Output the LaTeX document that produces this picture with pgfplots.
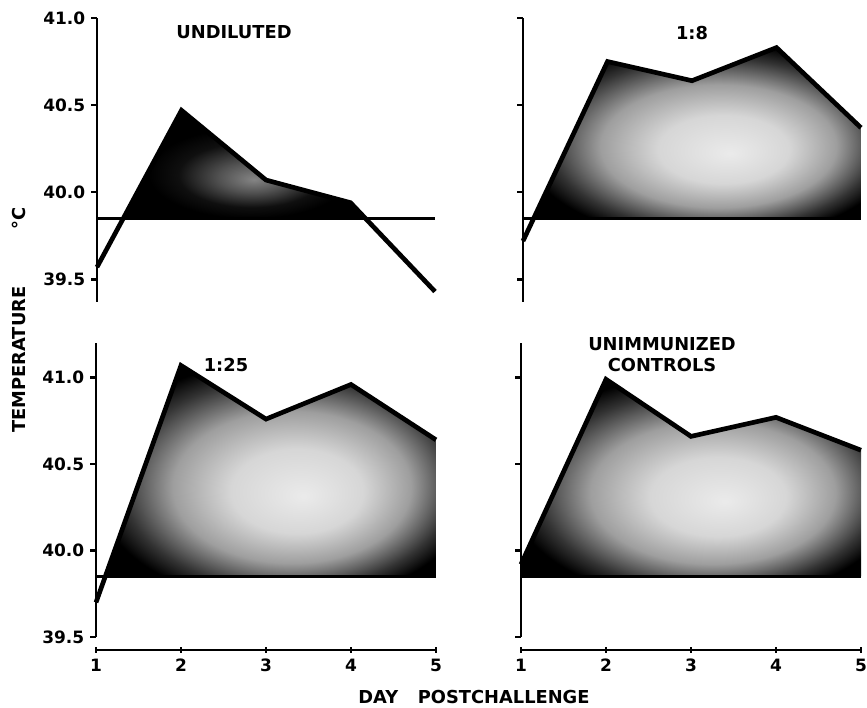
\documentclass[border=0pt]{standalone}
\usepackage{fontspec}
\setmainfont{DejaVu Sans}
\usepackage{pgfplots}
\pgfplotsset{compat=1.18}
\pgfdeclareradialshading{speckA}{\pgfpoint{2bp}{-7bp}}{color(0bp)=(black!48); color(7bp)=(black!68); color(15bp)=(black!94); color(21bp)=(black); color(50bp)=(black)}
\pgfdeclareradialshading{speckB}{\pgfpoint{5bp}{-6bp}}{color(0bp)=(black!8); color(10bp)=(black!16); color(18bp)=(black!38); color(25bp)=(black!80); color(29bp)=(black); color(50bp)=(black)}
\pgfplotsset{
  panel/.style={scale only axis, clip=false, xmin=1, xmax=5, anchor=south west,
    axis y line=left,
    axis line style={line width=1.6pt,-},
    tick style={line width=1.4pt, black}, tick align=outside, major tick length=3.5pt,
    ytick={39.5,40,40.5,41}, xtick={1,2,3,4,5},
    tick label style={font=\bfseries\fontsize{10.2}{12}\selectfont}},
  toprow/.style={panel, axis x line=none, ymin=39.37, ymax=41.0, width=202.8pt, height=170.4pt,
    y axis line style={-}},
  botrow/.style={panel, axis x line=bottom, axis x line shift=7.8pt, ymin=39.5, ymax=41.2,
    width=204pt, height=176.4pt, xticklabels={1,2,3,4,5},
    x axis line style={-}, y axis line style={-},
    every outer x axis line/.append style={-}},
  dataline/.style={black, line width=2.8pt, line join=miter, no markers},
  baseline/.style={black, line width=1.8pt, no markers},
}
\begin{document}
\begin{tikzpicture}
\path[use as bounding box] (0,0) rectangle (520.2pt,424.8pt);

% UNDILUTED
\begin{axis}[toprow, at={(58.2pt,243.6pt)}, yticklabels={39.5,40.0,40.5,41.0}]
\addplot[shade, shading=speckA, draw=none] coordinates {(1.31,39.85) (2,40.47) (3,40.07) (4,39.94) (4.18,39.85)};
\addplot[baseline] coordinates {(1,39.85) (5,39.85)};
\addplot[dataline] coordinates {(1,39.57) (2,40.47) (3,40.07) (4,39.94) (5,39.43)};
\end{axis}

% 1:8
\begin{axis}[toprow, at={(313.8pt,243.6pt)}, yticklabels={}]
\addplot[shade, shading=speckB, draw=none] coordinates {(1.13,39.85) (2,40.75) (3,40.64) (4,40.83) (5,40.37) (5,39.85)};
\addplot[baseline] coordinates {(1,39.85) (5,39.85)};
\addplot[dataline] coordinates {(1,39.72) (2,40.75) (3,40.64) (4,40.83) (5,40.37)};
\end{axis}

% 1:25
\begin{axis}[botrow, at={(57.6pt,42.6pt)}, yticklabels={39.5,40.0,40.5,41.0}]
\addplot[shade, shading=speckB, draw=none] coordinates {(1.11,39.85) (2,41.07) (3,40.76) (4,40.96) (5,40.64) (5,39.85)};
\addplot[baseline] coordinates {(1,39.85) (5,39.85)};
\addplot[dataline] coordinates {(1,39.70) (2,41.07) (3,40.76) (4,40.96) (5,40.64)};
\end{axis}

% UNIMMUNIZED CONTROLS
\begin{axis}[botrow, at={(312.6pt,42.6pt)}, yticklabels={}]
\addplot[shade, shading=speckB, draw=none] coordinates {(1,39.85) (1,39.92) (2,40.99) (3,40.66) (4,40.77) (5,40.58) (5,39.85)};
\addplot[baseline] coordinates {(1,39.85) (5,39.85)};
\addplot[dataline] coordinates {(1,39.92) (2,40.99) (3,40.66) (4,40.77) (5,40.58)};
\end{axis}

\begin{scope}[every node/.style={font=\bfseries\fontsize{10.7}{12.5}\selectfont, inner sep=0pt}]
\node at (140.4pt,405.6pt) {UNDILUTED};
\node at (415.2pt,405pt) {1:8};
\node at (135.6pt,205.8pt) {1:25};
\node[align=center] at (397.2pt,211.8pt) {UNIMMUNIZED\\CONTROLS};
\node at (284.4pt,6.6pt) {DAY\hspace{1.1em}POSTCHALLENGE};
\node[rotate=90] at (11.4pt,232.8pt) {TEMPERATURE\hspace{3.2em}°C};
\end{scope}
\end{tikzpicture}
\end{document}
